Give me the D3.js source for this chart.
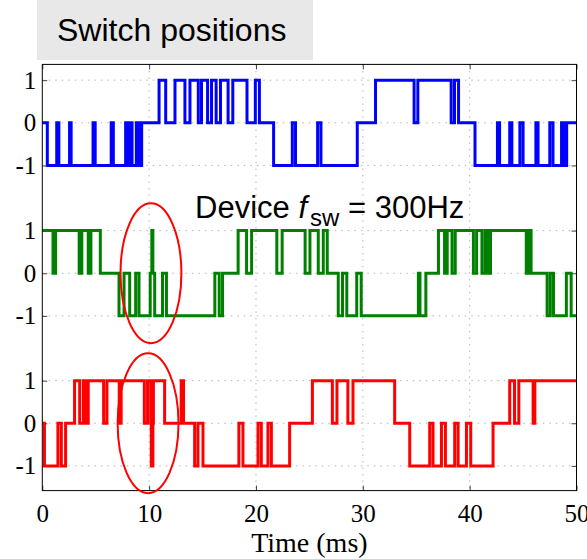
<!DOCTYPE html>
<html>
<head>
<meta charset="utf-8">
<script src="https://cdn.jsdelivr.net/npm/d3@7"></script>
<style>
  body { margin: 0; background: #fff; }
  svg { display: block; }
</style>
</head>
<body>
<svg id="chart" width="587" height="559"></svg>
<script>
// Time axis ticks (ms) and switch levels
const timeTicks = [0, 10, 20, 30, 40, 50];
const levelTicks = [-1, 0, 1];
const timeDomain = [0, 50];

// Switch position of each phase leg: [time (ms), level from this time on]
const phaseA = [
  [0, 0], [0.47, -1], [1.35, 0], [1.55, -1], [2.55, 0], [2.7, -1], [4.75, 0], [4.95, -1],
  [6.45, 0], [6.65, -1], [7.8, 0], [7.95, -1], [8.2, 0], [8.4, -1], [8.8, 0], [9.05, -1],
  [9.3, 0], [10.93, 1], [11.55, 0], [12.42, 1], [13.35, 0], [13.82, 1], [14.6, 0], [14.9, 1],
  [15.47, 0], [15.84, 1], [16.27, 0], [16.68, 1], [17.39, 0], [17.83, 1], [19.16, 0], [19.94, 1],
  [20.32, 0], [21.65, -1], [23.4, 0], [23.7, -1], [25.77, 0], [26.08, -1], [29.48, 0], [31.19, 1],
  [34.8, 0], [35.15, 1], [38.27, 0], [38.58, 1], [38.96, 0], [40.5, -1], [42.6, 0], [42.8, -1],
  [43.75, 0], [43.95, -1], [44.7, 0], [45.0, -1], [46.2, 0], [46.4, -1], [47.5, 0], [47.8, -1],
  [48.6, 0], [48.85, -1], [49.08, 0]
];
const phaseB = [
  [0, 1], [1.0, 0], [1.25, 1], [3.45, 0], [3.7, 1], [4.3, 0], [4.55, 1], [5.43, 0],
  [7.18, -1], [7.65, 0], [8.18, -1], [8.74, 0], [9.05, -1], [10.1, 0], [10.25, 1], [10.35, 0],
  [10.52, -1], [11.25, 0], [11.62, -1], [16.15, 0], [16.56, -1], [16.87, 0], [18.33, 1], [19.12, 0],
  [19.59, 1], [21.95, 0], [22.45, 1], [24.6, 0], [25.05, 1], [25.83, 0], [26.3, 1], [26.67, 0],
  [27.7, -1], [28.1, 0], [28.5, -1], [29.43, 0], [29.85, -1], [35.2, 0], [35.35, -1], [35.9, 0],
  [37.08, 1], [37.65, 0], [37.9, 1], [38.35, 0], [38.65, 1], [40.35, 0], [40.65, 1], [41.15, 0],
  [41.45, 1], [41.7, 0], [41.95, 1], [45.3, 0], [45.5, 1], [45.75, 0], [47.25, -1], [47.55, 0],
  [47.85, -1], [49.05, 0], [49.5, -1]
];
const phaseC = [
  [0, 0], [0.2, -1], [1.46, 0], [1.78, -1], [2.18, 0], [3.02, 1], [3.5, 0], [3.85, 1],
  [4.05, 0], [4.3, 1], [5.74, 0], [6.05, 1], [7.2, 0], [7.38, 1], [9.55, 0], [9.85, 1],
  [10.15, 0], [10.2, -1], [10.35, 0], [10.4, 1], [11.45, 0], [13.0, 1], [13.22, 0], [14.26, -1],
  [14.57, 0], [15.04, -1], [18.4, 0], [18.78, -1], [20.19, 0], [20.5, -1], [21.12, 0], [21.44, -1],
  [23.15, 0], [25.28, 1], [27.15, 0], [27.58, 1], [28.6, 0], [29.08, 1], [32.98, 0], [34.39, -1],
  [36.26, 0], [36.57, -1], [37.36, 0], [37.73, -1], [38.6, 0], [38.92, -1], [39.7, 0], [40.1, -1],
  [42.19, 0], [43.75, 1], [44.2, 0], [44.6, 1], [45.94, 0], [46.1, 1]
];

// Vertical stacking of the three traces (in level units) and their colours
const phases = [phaseA, phaseB, phaseC];
const phaseOffsets = [7.05, 3.52, 0];
const phaseColors = ["#0000ff", "#008000", "#ff0000"];

// Circled events: [trace index, time (ms)]
const highlights = [[1, 10.17], [2, 9.9]];

const svg = d3.select("#chart");
const plot = { left: 42.3, right: 576.5, top: 64.4, bottom: 490.6 };

const x = d3.scaleLinear().domain(timeDomain).range([plot.left, plot.right]);
const y = d3.scaleLinear().domain([-1.58, 8.42]).range([plot.bottom, plot.top]);

// Heading box
svg.append("rect")
  .attr("x", 37).attr("y", 0).attr("width", 276).attr("height", 60)
  .attr("fill", "#e8e8e8");
svg.append("text")
  .attr("x", 57).attr("y", 41)
  .attr("font-family", "Liberation Sans, Arial, sans-serif")
  .attr("font-size", 32)
  .attr("fill", "#000")
  .text("Switch positions");

// Dotted grid
const grid = svg.append("g")
  .attr("stroke", "#b4b4b4")
  .attr("stroke-width", 1)
  .attr("stroke-dasharray", "1.5,5");
grid.selectAll("line.v")
  .data(timeTicks.slice(1, -1))
  .join("line")
  .attr("class", "v")
  .attr("x1", d => x(d)).attr("x2", d => x(d))
  .attr("y1", plot.top).attr("y2", plot.bottom);
const levelRows = phaseOffsets.flatMap(o => levelTicks.map(l => l + o));
grid.selectAll("line.h")
  .data(levelRows)
  .join("line")
  .attr("class", "h")
  .attr("x1", plot.left).attr("x2", plot.right)
  .attr("y1", d => y(d)).attr("y2", d => y(d));

// Axes: ticks point inward, labels in a serif face
const serif = "Liberation Serif, Times New Roman, serif";

const xAxis = svg.append("g")
  .attr("transform", `translate(0,${plot.bottom})`)
  .call(d3.axisBottom(x).tickValues(timeTicks).tickSizeInner(-5).tickSizeOuter(0).tickPadding(14));
const xTop = svg.append("g")
  .attr("transform", `translate(0,${plot.top})`)
  .call(d3.axisTop(x).tickValues(timeTicks).tickSizeInner(-5).tickSizeOuter(0).tickFormat(""));

const yTickVals = levelRows;
const levelOf = v => {
  const o = phaseOffsets.find(o => Math.abs(v - o) <= 1.001);
  return Math.round(v - o);
};
const yAxis = svg.append("g")
  .attr("transform", `translate(${plot.left},0)`)
  .call(d3.axisLeft(y).tickValues(yTickVals).tickSizeInner(-5).tickSizeOuter(0).tickPadding(6)
    .tickFormat(d => String(levelOf(d))));
const yRight = svg.append("g")
  .attr("transform", `translate(${plot.right},0)`)
  .call(d3.axisRight(y).tickValues(yTickVals).tickSizeInner(-5).tickSizeOuter(0).tickFormat(""));

[xAxis, xTop, yAxis, yRight].forEach(g => {
  g.select(".domain").remove();
  g.selectAll(".tick line").attr("stroke", "#444");
  g.selectAll("text")
    .attr("font-family", serif)
    .attr("font-size", 25)
    .attr("fill", "#000");
});

// Step traces
svg.append("clipPath").attr("id", "plot-clip")
  .append("rect")
  .attr("x", plot.left - 2).attr("y", plot.top)
  .attr("width", plot.right - plot.left + 2).attr("height", plot.bottom - plot.top);

const line = d3.line()
  .x(d => x(d[0]))
  .y(d => y(d[1]))
  .curve(d3.curveStepAfter);

phases.forEach((steps, i) => {
  const pts = steps.map(([t, v]) => [t, v + phaseOffsets[i]]);
  pts.push([timeDomain[1], pts[pts.length - 1][1]]);
  svg.append("path")
    .datum(pts)
    .attr("clip-path", "url(#plot-clip)")
    .attr("fill", "none")
    .attr("stroke", phaseColors[i])
    .attr("stroke-width", 3)
    .attr("stroke-linejoin", "miter")
    .attr("d", line);
});

// Frame
svg.append("rect")
  .attr("x", plot.left).attr("y", plot.top)
  .attr("width", plot.right - plot.left).attr("height", plot.bottom - plot.top)
  .attr("fill", "none").attr("stroke", "#000").attr("stroke-width", 1);

// Ellipses round the events near 10 ms
svg.selectAll("ellipse.mark")
  .data(highlights)
  .join("ellipse")
  .attr("class", "mark")
  .attr("cx", d => x(d[1]))
  .attr("cy", d => y(phaseOffsets[d[0]]))
  .attr("rx", x(2.85) - x(0))
  .attr("ry", y(0) - y(1.64))
  .attr("fill", "none")
  .attr("stroke", "#ff0000")
  .attr("stroke-width", 2);

// Switching frequency note
const note = svg.append("text")
  .attr("x", 195).attr("y", 218)
  .attr("font-family", "Liberation Sans, Arial, sans-serif")
  .attr("font-size", 31)
  .attr("fill", "#000");
note.append("tspan").text("Device ");
note.append("tspan").attr("font-style", "italic").text("f");
note.append("tspan").attr("font-size", 24).attr("dx", 3).attr("dy", 8).text("sw");
note.append("tspan").attr("dy", -8).text(" = 300Hz");

// Axis title
svg.append("text")
  .attr("x", (plot.left + plot.right) / 2)
  .attr("y", 552)
  .attr("text-anchor", "middle")
  .attr("font-family", serif)
  .attr("font-size", 28)
  .attr("fill", "#000")
  .text("Time (ms)");
</script>
</body>
</html>
